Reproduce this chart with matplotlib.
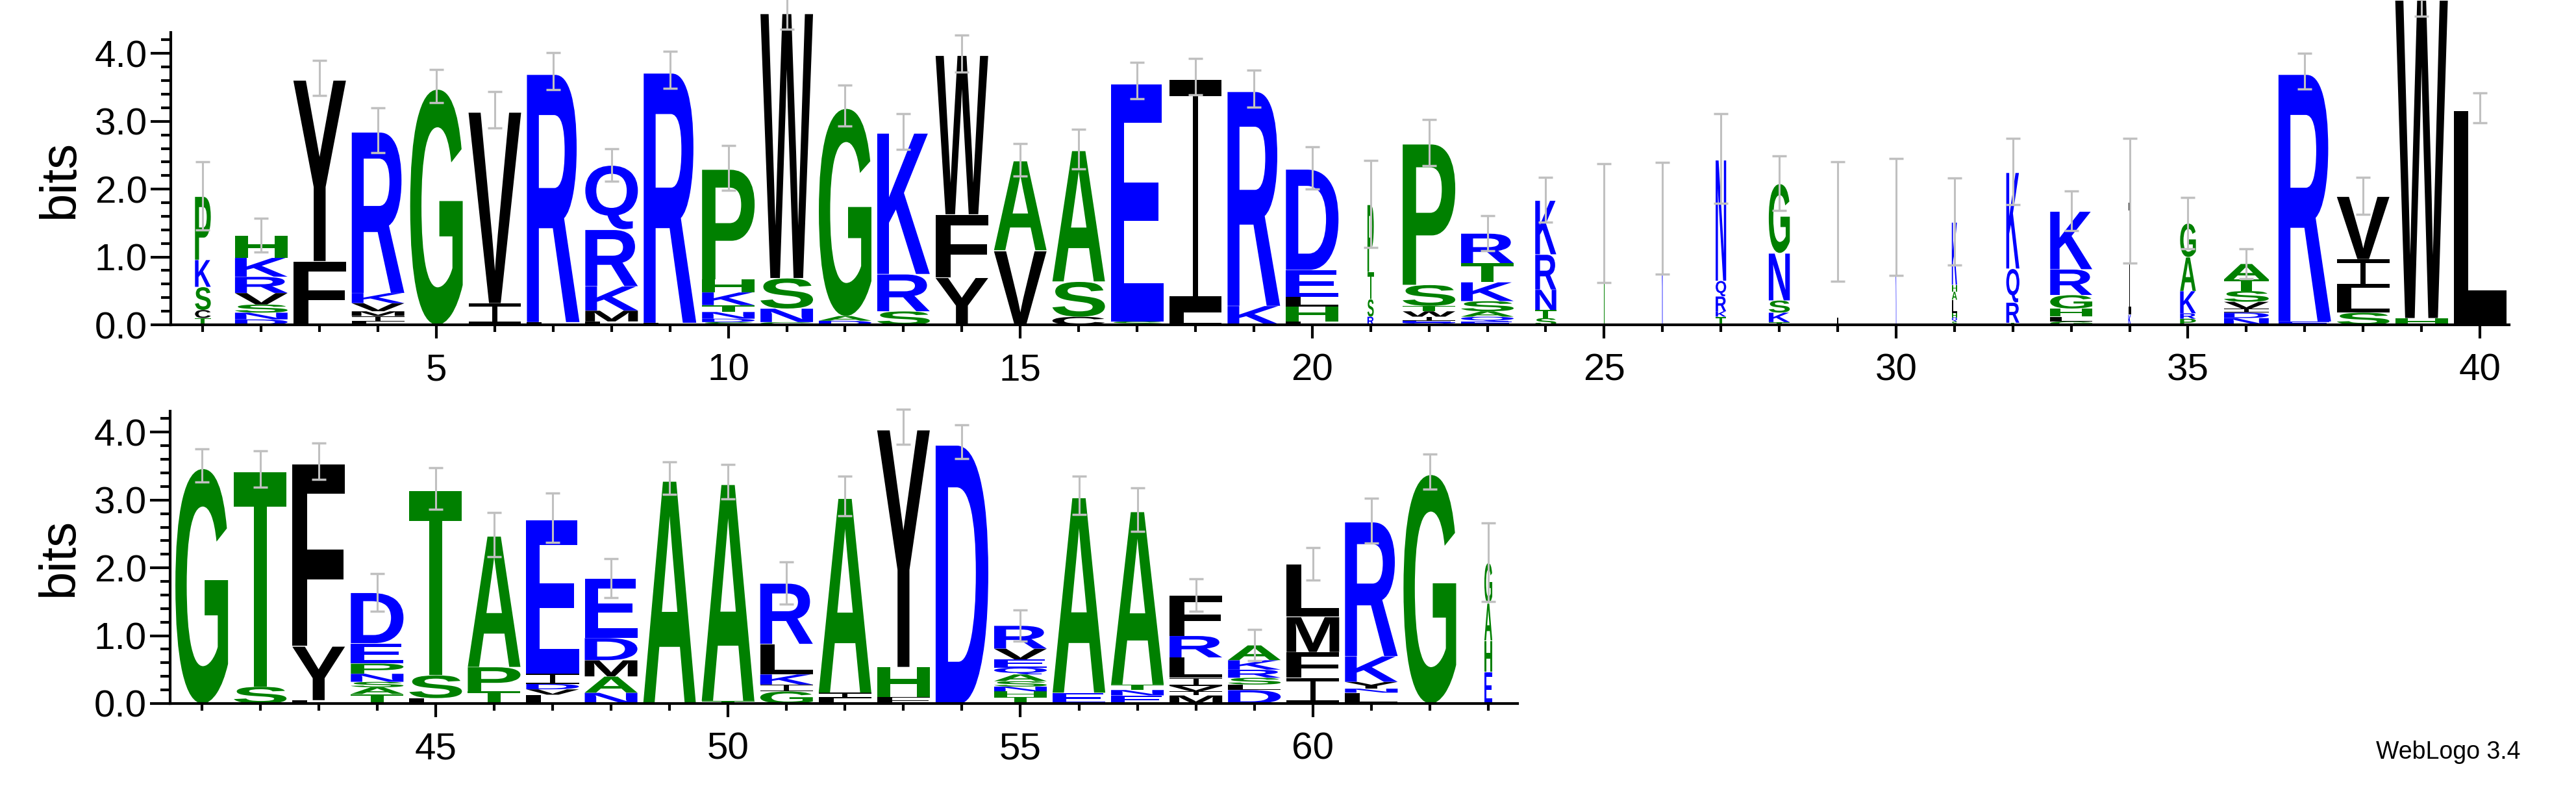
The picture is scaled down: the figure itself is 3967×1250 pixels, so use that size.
import matplotlib
matplotlib.use("Agg")
import matplotlib.pyplot as plt
from matplotlib.textpath import TextPath
from matplotlib.patches import PathPatch, Rectangle
from matplotlib.font_manager import FontProperties
from matplotlib.transforms import Affine2D
from matplotlib.ticker import MultipleLocator, FormatStrFormatter

# stacks, bottom -> top, one string of letters per position 1..63
stack_letters = [
    "TCSKP", "DNSVRKH", "LFY", "LIMVKR", "G", "IV", "LR", "LMKRQ", "LR", "SDNTKHP",
    "GNSW", "DAG", "SRK", "YFW", "VA", "CSA", "SE", "LI", "KR", "LHLED",
    "RSTP", "QEIWTSP", "EQASKTR", "STNRK", "T", "K", "TKRQN", "TKSNG", "I", "K",
    "SQHLAHK", "TRQK", "GLHGRK", "KI", "PRKAG", "NDIVSTA", "ER", "SLIV", "HW", "L",
    "G", "ST", "LYF", "TASNPED", "LST", "TPA", "LVDIE", "NAMDE", "A", "TA",
    "GIKLR", "LIA", "FHY", "D", "THNSAQEVR", "EA", "ENTA", "MIVILRF", "DLSRKA", "IFML",
    "LNYKR", "G", "EHAG",
]
stack_heights = [
    [.10, .12, .34, .40, .94], [.08, .10, .12, .17, .24, .28, .33], [.04, .90, 2.70],
    [.05, .08, .07, .12, .15, 2.40], [3.52], [.32, 2.85], [.04, 3.70],
    [.05, .16, .36, .84, .95], [.03, 3.73], [.04, .05, .10, .10, .19, .19, 1.64],
    [.04, .20, .45, 3.95], [.06, .07, 3.10], [.20, .55, 2.10], [.70, .93, 2.37],
    [1.10, 1.33], [.12, .52, 1.95], [.05, 3.55], [.18, 3.48], [.28, 3.20],
    [.05, .22, .14, .40, 1.50], [.12, .26, .40, 1.00], [.03, .03, .06, .08, .08, .31, 2.10],
    [.05, .07, .08, .15, .28, .28, .44], [.10, .12, .30, .52, .80], [1.50], [1.57],
    [.12, .08, .22, .23, 1.80], [.04, .14, .18, .70, 1.03], [1.52], [1.59],
    [.05, .06, .06, .20, .12, .10, .93], [.03, .30, .50, 1.43], [.05, .07, .12, .20, .38, .86],
    [.15, 1.68], [.09, .08, .33, .50, .50], [.10, .08, .06, .10, .16, .17, .23],
    [.05, 3.69], [.18, .37, .42, .93], [.10, 4.75], [3.20],
    [3.51], [.25, 3.21], [.05, .80, 2.72], [.14, .10, .08, .12, .15, .30, .75],
    [.08, .34, 2.75], [.18, .36, 1.95], [.13, .08, .08, .15, 2.30], [.16, .24, .24, .33, .88],
    [3.32], [.04, 3.23], [.18, .10, .15, .45, .90], [.08, .08, 2.90], [.10, .44, 3.54],
    [3.86], [.10, .08, .07, .08, .10, .10, .12, .16, .34], [.16, 2.91], [.12, .08, .08, 2.58],
    [.12, .06, .08, .12, .30, .32, .60], [.20, .08, .10, .12, .14, .22], [.38, .38, .52, .78],
    [.16, .06, .10, .38, 2.00], [3.42], [.47, .46, .55, .60],
]
# stack widths (fraction of full column) and error bar half lengths
stack_widths = [
    .30, 1, 1, 1, 1, 1, 1, 1, 1, 1, 1, 1, 1, 1, 1, 1, 1, 1, 1, 1,
    .12, 1, 1, .40, .02, .02, .20, .40, .015, .015, .10, .25, .80, .05, .30, .85, 1, 1, 1, 1,
    1, 1, 1, 1, 1, 1, 1, 1, 1, 1, 1, 1, 1, 1, 1, 1, 1, 1, 1, 1, 1, 1, .15,
]
err_half = [
    .50, .25, .26, .33, .24, .27, .27, .24, .27, .33, .28, .30, .26, .27, .24, .29, .27, .27, .27, .31,
    .64, .34, .26, .33, .88, .82, .66, .40, .88, .86, .64, .49, .29, .92, .38, .22, .26, .27, .30, .22,
    .24, .27, .27, .28, .31, .33, .36, .29, .24, .25, .31, .29, .26, .25, .23, .28, .32, .24, .23, .24,
    .33, .26, .58,
]

GREEN, BLUE, BLACK = "#008000", "#0000ff", "#000000"
colors = {c: GREEN for c in "GSTPAH"}
colors.update({c: BLUE for c in "KRDENQ"})
colors.update({c: BLACK for c in "YFVILMWC"})

sans = FontProperties(family="Liberation Sans", weight="bold")


def draw_letter(ax, ch, x, y, w, h):
    col = colors[ch]
    if ch == "I":
        # WebLogo's I: thin stem with wide caps
        cap = 0.07 * h if h > 0.5 else 0.14 * h
        for yy, hh, ww in ((y, cap, w), (y + h - cap, cap, w), (y, h, 0.1 * w)):
            ax.add_patch(Rectangle((x - ww / 2, yy), ww, hh, fc=col, ec="none",
                                   clip_on=False, zorder=2))
        return
    tp = TextPath((0, 0), ch, size=1, prop=sans)
    bb = tp.get_extents()
    tr = Affine2D().translate(-bb.x0, -bb.y0).scale(w / bb.width, h / bb.height).translate(x - w / 2, y)
    ax.add_patch(PathPatch(tr.transform_path(tp), fc=col, ec="none", lw=0,
                           transform=ax.transData, clip_on=False, zorder=2))


def style_axes(ax, xlim):
    ax.set_xlim(*xlim)
    ax.set_ylim(0, 4.31)
    for s in ("top", "right"):
        ax.spines[s].set_visible(False)
    for s in ("left", "bottom"):
        ax.spines[s].set_linewidth(3)
    ax.xaxis.set_major_locator(MultipleLocator(5))
    ax.xaxis.set_minor_locator(MultipleLocator(1))
    ax.yaxis.set_major_locator(MultipleLocator(1))
    ax.yaxis.set_minor_locator(MultipleLocator(0.2))
    ax.yaxis.set_major_formatter(FormatStrFormatter("%.1f"))
    ax.tick_params(axis="x", which="major", length=15, width=3, labelsize=42, pad=16)
    ax.tick_params(axis="x", which="minor", length=8, width=3)
    ax.tick_params(axis="y", which="major", length=22, width=3, labelsize=42, pad=4)
    ax.tick_params(axis="y", which="minor", length=11, width=3)
    ax.set_ylabel("bits", fontsize=56, labelpad=12)


plt.rcParams["font.family"] = ["Liberation Sans", "DejaVu Sans"]
fig = plt.figure(figsize=(39.67, 12.5), dpi=100)
ax_top = fig.add_axes([263 / 3967, 0.6, 3601 / 3967, 0.36])
ax_bot = fig.add_axes([262 / 3967, 167 / 1250, 2075 / 3967, 0.36])
style_axes(ax_top, (0.45, 40.5))
style_axes(ax_bot, (40.46, 63.5))

for i, (letters, heights) in enumerate(zip(stack_letters, stack_heights)):
    pos = i + 1
    ax = ax_top if pos <= 40 else ax_bot
    w = 0.9 * stack_widths[i]
    y = 0.0
    for ch, h in zip(letters, heights):
        draw_letter(ax, ch, pos, y, w, h * 0.985)
        y += h
    ax.errorbar([pos], [y], yerr=[err_half[i]], fmt="none", ecolor="#c0c0c0",
                elinewidth=2.2, capsize=8, capthick=2.5, zorder=3, clip_on=False)

fig.text(3770 / 3967, 1 - 1158 / 1250, "WebLogo 3.4", ha="center", va="center", fontsize=27)
fig.savefig("out.png", dpi=100)
